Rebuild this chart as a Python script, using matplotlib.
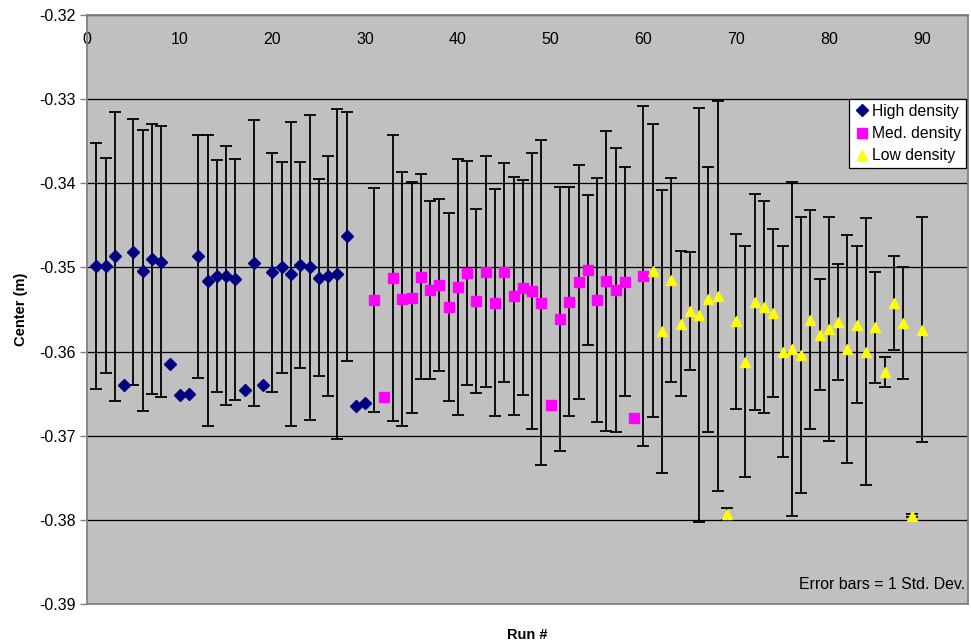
import matplotlib
matplotlib.use("Agg")
from matplotlib import pyplot as plt

high_runs = list(range(1, 31))
high_center = [-0.3498, -0.3498, -0.3487, -0.3640, -0.3482, -0.3504, -0.3490, -0.3493, -0.3615, -0.3652,
               -0.3650, -0.3487, -0.3516, -0.3510, -0.3510, -0.3514, -0.3646, -0.3495, -0.3640, -0.3506,
               -0.3500, -0.3508, -0.3497, -0.3500, -0.3512, -0.3510, -0.3508, -0.3463, -0.3665, -0.3661]
high_sd = [0.0146, 0.0128, 0.0172, 0.0, 0.0158, 0.0167, 0.0160, 0.0161, 0.0, 0.0,
           0.0, 0.0144, 0.0173, 0.0138, 0.0154, 0.0143, 0.0, 0.0170, 0.0, 0.0142,
           0.0125, 0.0181, 0.0122, 0.0181, 0.0117, 0.0143, 0.0196, 0.0148, 0.0, 0.0]

med_runs = list(range(31, 61))
med_center = [-0.3539, -0.3654, -0.3513, -0.3538, -0.3536, -0.3511, -0.3527, -0.3521, -0.3547, -0.3523,
              -0.3507, -0.3540, -0.3505, -0.3542, -0.3506, -0.3534, -0.3524, -0.3528, -0.3542, -0.3663,
              -0.3561, -0.3541, -0.3517, -0.3503, -0.3539, -0.3516, -0.3527, -0.3517, -0.3679, -0.3510]
med_sd = [0.0133, 0.0, 0.0170, 0.0151, 0.0137, 0.0122, 0.0106, 0.0102, 0.0112, 0.0152,
          0.0133, 0.0109, 0.0137, 0.0135, 0.0130, 0.0141, 0.0128, 0.0164, 0.0193, 0.0,
          0.0157, 0.0136, 0.0139, 0.0089, 0.0145, 0.0178, 0.0169, 0.0136, 0.0, 0.0202]

low_runs = list(range(61, 91))
low_center = [-0.3504, -0.3576, -0.3515, -0.3567, -0.3552, -0.3556, -0.3538, -0.3534, -0.3793, -0.3564,
              -0.3612, -0.3541, -0.3547, -0.3554, -0.3600, -0.3597, -0.3604, -0.3562, -0.3580, -0.3573,
              -0.3565, -0.3597, -0.3568, -0.3600, -0.3571, -0.3624, -0.3542, -0.3566, -0.3795, -0.3574]
low_sd = [0.0174, 0.0168, 0.0121, 0.0086, 0.0070, 0.0246, 0.0157, 0.0232, 0.0007, 0.0104,
          0.0137, 0.0128, 0.0126, 0.0100, 0.0125, 0.0199, 0.0164, 0.0130, 0.0066, 0.0133,
          0.0069, 0.0135, 0.0093, 0.0159, 0.0066, 0.0018, 0.0056, 0.0067, 0.0002, 0.0134]

y_ticks = [-0.39, -0.38, -0.37, -0.36, -0.35, -0.34, -0.33, -0.32]
x_ticks = list(range(0, 91, 10))

plt.rcParams["font.family"] = ["Liberation Sans", "DejaVu Sans"]

fig = plt.figure(figsize=(9.71, 6.43), dpi=100)
ax = fig.add_axes([87 / 971, 1 - 604 / 643, 881 / 971, 589 / 643])
ax.set_facecolor("#c0c0c0")

series = [
    (high_runs, high_center, high_sd, "D", "#000080", 6.5, "High density"),
    (med_runs, med_center, med_sd, "s", "#ff00ff", 6.5, "Med. density"),
    (low_runs, low_center, low_sd, "^", "#ffff00", 7, "Low density"),
]
for runs, center, sd, marker, color, size, label in series:
    # runs with no spread get no bar at all, like in the original sheet
    keep = [i for i in range(len(runs)) if sd[i] > 0]
    ax.errorbar([runs[i] for i in keep], [center[i] for i in keep], yerr=[sd[i] for i in keep],
                fmt="none", ecolor="black", elinewidth=1.3, capsize=4, capthick=1.3, zorder=3)
    ax.plot(runs, center, linestyle="none", marker=marker, color=color,
            markersize=size, markeredgecolor=color, label=label, zorder=4)

ax.set_xlim(0, 95)
ax.set_ylim(-0.39, -0.32)
ax.set_yticks(y_ticks)
ax.set_yticklabels(["%.2f" % v for v in y_ticks])
ax.set_xticks(x_ticks)
ax.grid(axis="y", color="black", linewidth=0.9, zorder=1)
ax.set_axisbelow(True)

ax.tick_params(axis="x", top=True, bottom=False, labeltop=True, labelbottom=False,
               direction="in", length=0, pad=-23, labelsize=11.5)
ax.tick_params(axis="y", direction="out", length=5, width=1, color="#808080", labelsize=11.5, pad=3)
for s in ax.spines.values():
    s.set_color("#808080")
    s.set_linewidth(1.3)

ax.set_ylabel("Center (m)", fontsize=10.5, fontweight="bold", labelpad=8)
ax.set_xlabel("Run #", fontsize=10.5, fontweight="bold", labelpad=17)

leg = ax.legend(loc="upper right", bbox_to_anchor=(0.998, 0.857), borderaxespad=0,
                fancybox=False, framealpha=1, edgecolor="black", fontsize=11.3,
                handletextpad=0.1, handlelength=1.1, borderpad=0.3, labelspacing=0.45)
leg.get_frame().set_linewidth(0.9)

ax.text(0.997, 0.033, "Error bars = 1 Std. Dev.", transform=ax.transAxes,
        ha="right", va="center", fontsize=11.4)

fig.savefig("out.png", dpi=100)
